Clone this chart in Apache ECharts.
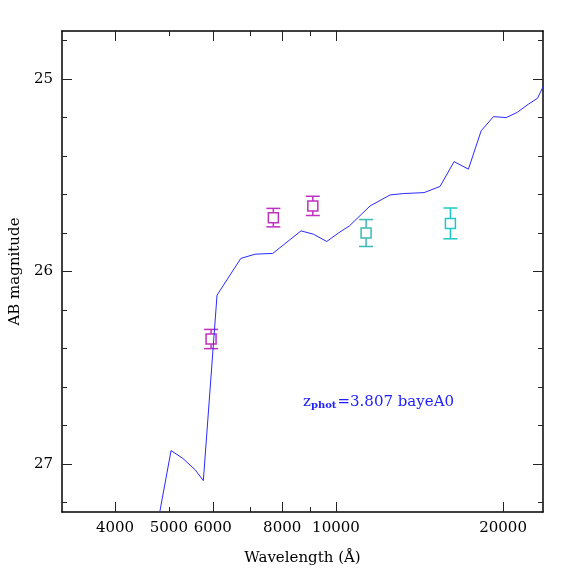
<!DOCTYPE html>
<html>
<head>
<meta charset="utf-8">
<script src="https://cdn.jsdelivr.net/npm/echarts@6/dist/echarts.min.js"></script>
<style>
  html, body { margin: 0; padding: 0; background: #fff; }
  #chart { width: 574px; height: 574px; }
</style>
</head>
<body>
<div id="chart"></div>
<script>
// model SED (wavelength in Angstrom, AB magnitude)
var sedWave = [4780, 5046, 5297, 5574, 5769, 6106, 6738, 7151, 7693, 8651, 9107, 9625, 10100, 10573,
    11522, 12518, 13228, 14410, 15398, 16322, 17322, 18260, 19214, 20254, 21176, 22221, 23066, 24118];
var sedMag = [27.30, 26.931, 26.971, 27.03, 27.087, 26.123, 25.932, 25.91, 25.906, 25.789, 25.806, 25.844, 25.80, 25.763,
    25.659, 25.602, 25.595, 25.59, 25.558, 25.429, 25.468, 25.269, 25.195, 25.20, 25.174, 25.13, 25.10, 24.984];

// photometry: wavelength, magnitude, error
var optWave = [5957, 7713, 9084];
var optMag = [26.351, 25.72, 25.659];
var optErr = [0.05, 0.048, 0.05];
var nirWave = [11330, 16074];
var nirMag = [25.80, 25.75];
var nirErr = [0.07, 0.08];
var nirColors = ['#3cb9b9', '#1ec8c8'];

var xMajorTicks = [4000, 6000, 8000, 10000, 20000];
var xMinorTicks = [5000, 7000, 9000];
var xLabels = [4000, 5000, 6000, 8000, 10000, 20000];
var yMajorTicks = [25, 26, 27];
var yMinorTicks = [24.8, 25.2, 25.4, 25.6, 25.8, 26.2, 26.4, 26.6, 26.8, 27.2];

var FONT = 'DejaVu Serif';
var xMin = 3210, xMax = 23600, yMin = 24.75, yMax = 27.25;

function xAx(pos, ticks, len, showLabel, extra) {
    return Object.assign({
        type: 'log', position: pos, min: xMin, max: xMax,
        axisLine: { show: showLabel, lineStyle: { color: '#000', width: 1.5 } },
        axisTick: { show: true, inside: true, length: len, customValues: ticks, lineStyle: { color: '#222', width: 1 } },
        axisLabel: showLabel ? {
            customValues: xLabels, color: '#000', fontFamily: FONT, fontSize: 15, margin: 9,
            formatter: v => String(Math.round(v))
        } : { show: false },
        splitLine: { show: false }
    }, extra || {});
}

function yAx(pos, ticks, len, showLabel, extra) {
    return Object.assign({
        type: 'value', position: pos, inverse: true, min: yMin, max: yMax,
        axisLine: { show: showLabel, onZero: false, lineStyle: { color: '#000', width: 1.5 } },
        axisTick: { show: true, inside: true, length: len, customValues: ticks, lineStyle: { color: '#222', width: 1 } },
        axisLabel: showLabel ? { customValues: yMajorTicks, color: '#000', fontFamily: FONT, fontSize: 15, margin: 9 } : { show: false },
        splitLine: { show: false }
    }, extra || {});
}

function errorItem(color) {
    return function (params, api) {
        var x = api.value(0), m = api.value(1), e = api.value(2);
        var c = api.coord([x, m]);
        var top = api.coord([x, m - e]);
        var bot = api.coord([x, m + e]);
        var style = { stroke: color, lineWidth: 1.5, fill: null };
        return {
            type: 'group',
            children: [
                { type: 'line', shape: { x1: c[0], y1: top[1], x2: c[0], y2: bot[1] }, style: style },
                { type: 'line', shape: { x1: c[0] - 7, y1: top[1], x2: c[0] + 7, y2: top[1] }, style: style },
                { type: 'line', shape: { x1: c[0] - 7, y1: bot[1], x2: c[0] + 7, y2: bot[1] }, style: style },
                { type: 'rect', shape: { x: c[0] - 5, y: c[1] - 5, width: 10, height: 10 }, style: { stroke: color, lineWidth: 1.5, fill: '#fff' } }
            ]
        };
    };
}

var chart = echarts.init(document.getElementById('chart'));

var series = [{
    type: 'line',
    xAxisIndex: 0, yAxisIndex: 0,
    data: sedWave.map((w, i) => [w, sedMag[i]]),
    showSymbol: false,
    clip: true,
    lineStyle: { color: '#2a2aff', width: 1 },
    silent: true,
    z: 3
}, {
    type: 'custom',
    xAxisIndex: 0, yAxisIndex: 0,
    data: optWave.map((w, i) => [w, optMag[i], optErr[i]]),
    renderItem: errorItem('#c030c0'),
    z: 2
}];
nirWave.forEach((w, i) => {
    series.push({
        type: 'custom',
        xAxisIndex: 0, yAxisIndex: 0,
        data: [[w, nirMag[i], nirErr[i]]],
        renderItem: errorItem(nirColors[i]),
        z: 2
    });
});

chart.setOption({
    backgroundColor: '#fff',
    animation: false,
    grid: { left: 62, right: 31, top: 31, bottom: 62, containLabel: false, outerBoundsMode: 'none' },
    xAxis: [
        xAx('bottom', xMajorTicks, 10, true, {
            name: 'Wavelength (Å)', nameLocation: 'middle', nameGap: 39,
            nameTextStyle: { color: '#000', fontFamily: FONT, fontSize: 15 }
        }),
        xAx('bottom', xMinorTicks, 5, false),
        xAx('top', xMajorTicks, 10, true, { axisLabel: { show: false } }),
        xAx('top', xMinorTicks, 5, false)
    ],
    yAxis: [
        yAx('left', yMajorTicks, 10, true, {
            name: 'AB magnitude', nameLocation: 'middle', nameGap: 38, nameRotate: 90,
            nameTextStyle: { color: '#000', fontFamily: FONT, fontSize: 15 }
        }),
        yAx('left', yMinorTicks, 5, false),
        yAx('right', yMajorTicks, 10, true, { axisLabel: { show: false } }),
        yAx('right', yMinorTicks, 5, false)
    ],
    graphic: [{
        type: 'text',
        left: 303, top: 395,
        style: {
            text: '{z|z}{s|phot}{t|=3.807 bayeA0}',
            rich: {
                z: { fill: '#2020ff', fontFamily: FONT, fontSize: 15, verticalAlign: 'bottom' },
                s: { fill: '#2020ff', fontFamily: FONT, fontSize: 10, fontWeight: 'bold', padding: [8, 1, 0, 0], verticalAlign: 'bottom' },
                t: { fill: '#2020ff', fontFamily: FONT, fontSize: 15, verticalAlign: 'bottom' }
            }
        }
    }],
    series: series
});
</script>
</body>
</html>
